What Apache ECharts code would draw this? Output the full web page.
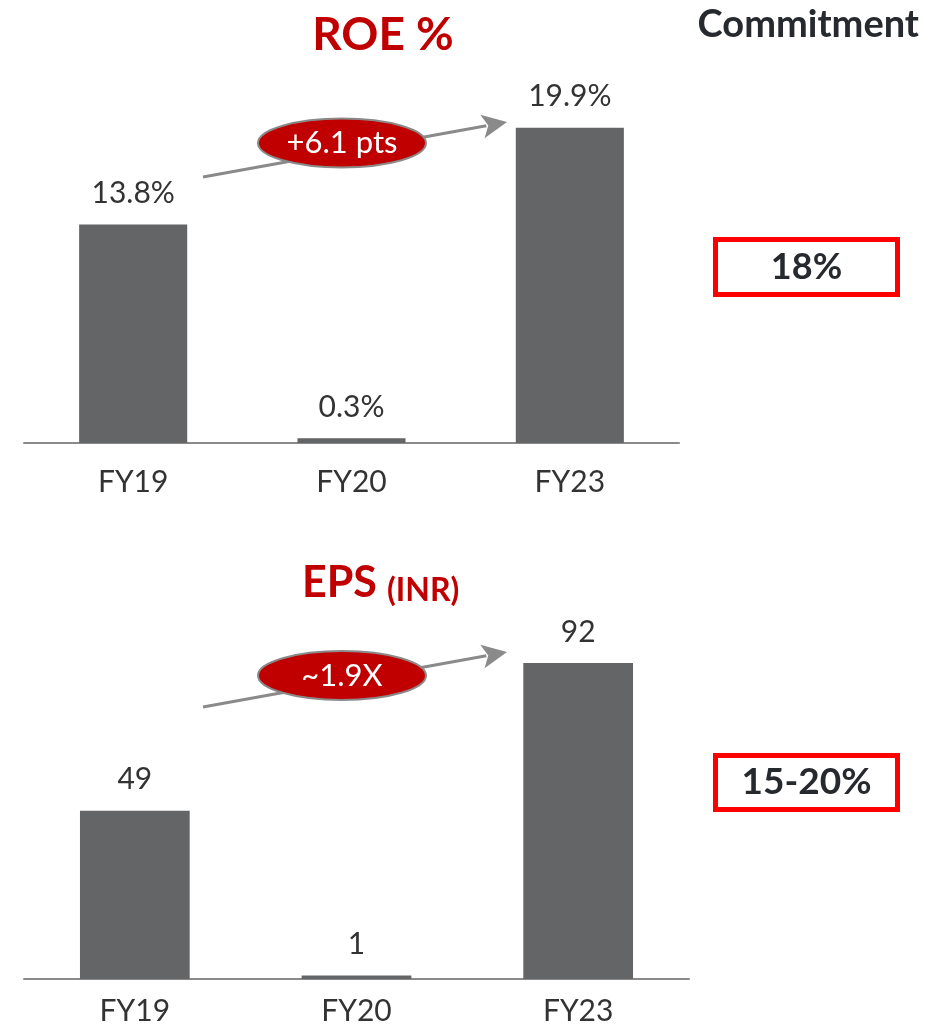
<!DOCTYPE html>
<html>
<head>
<meta charset="utf-8">
<script src="https://cdn.jsdelivr.net/npm/echarts@6/dist/echarts.min.js"></script>
<style>
html,body{margin:0;padding:0;background:#fff;}
#c{width:946px;height:1025px;}
</style>
</head>
<body>
<div id="c"></div>
<script>
const categories = ['FY19', 'FY20', 'FY23'];
const roeValues = [13.8, 0.3, 19.9];
const epsValues = [49, 1, 92];
const roeTitle = 'ROE %';
const epsTitle = 'EPS';
const epsUnit = '(INR)';
const roeChange = '+6.1 pts';
const epsChange = '~1.9X';
const commitmentTitle = 'Commitment';
const roeCommitment = '18%';
const epsCommitment = '15-20%';

const FONT = 'Lato, "Noto Sans", sans-serif';
const RED = '#C00000';
const BAR = '#646567';
const TXT = '#333333';
const DARK = '#262a2e';
const GREY = '#8a8a8a';

function arrow(x1, y1, x2, y2) {
  const dx = x2 - x1, dy = y2 - y1;
  const L = Math.sqrt(dx * dx + dy * dy);
  const ux = dx / L, uy = dy / L;
  const nx = -uy, ny = ux;
  const hl = 25, hw = 12;
  const bx = x2 - ux * hl, by = y2 - uy * hl;
  return [
    { type: 'line', shape: { x1: x1, y1: y1, x2: bx + ux * 4, y2: by + uy * 4 }, style: { stroke: GREY, lineWidth: 3 } },
    { type: 'polygon', shape: { points: [[x2, y2], [bx + nx * hw, by + ny * hw], [bx + ux * 6, by + uy * 6], [bx - nx * hw, by - ny * hw]] }, style: { fill: GREY } }
  ];
}

function bubble(cx, cy, txt) {
  return [
    { type: 'ellipse', shape: { cx: cx, cy: cy, rx: 84, ry: 24.5 }, style: { fill: RED, stroke: GREY, lineWidth: 2 } },
    { type: 'text', x: cx, y: cy, style: { text: txt, fill: '#fff', font: '31px ' + FONT, textAlign: 'center', textVerticalAlign: 'middle' } }
  ];
}

function box(y, h, txt, size) {
  return [
    { type: 'rect', shape: { x: 715.5, y: y, width: 182, height: h }, style: { fill: '#fff', stroke: '#ff0000', lineWidth: 5 } },
    { type: 'text', x: 806.5, y: y + h / 2, style: { text: txt, fill: DARK, font: 'bold ' + size + 'px ' + FONT, textAlign: 'center', textVerticalAlign: 'middle' } }
  ];
}

const chart = echarts.init(document.getElementById('c'), null, { renderer: 'canvas' });

function xAxis(gridIndex, margin) {
  return {
    gridIndex: gridIndex,
    type: 'category',
    data: categories,
    axisTick: { show: false },
    axisLine: { lineStyle: { color: GREY, width: 2 } },
    axisLabel: { color: TXT, fontSize: 30, fontFamily: FONT, margin: margin }
  };
}
const yAxisCommon = { type: 'value', min: 0, show: false, splitLine: { show: false } };

chart.setOption({
  animation: false,
  grid: [
    { left: 24, right: 267, top: 47, bottom: 582, outerBoundsMode: 'none', containLabel: false },
    { left: 24, right: 257, top: 635.5, bottom: 46, outerBoundsMode: 'none', containLabel: false }
  ],
  xAxis: [xAxis(0, 24), xAxis(1, 17)],
  yAxis: [
    Object.assign({ gridIndex: 0, max: 25 }, yAxisCommon),
    Object.assign({ gridIndex: 1, max: 100 }, yAxisCommon)
  ],
  series: [
    {
      type: 'bar', xAxisIndex: 0, yAxisIndex: 0, data: roeValues, barWidth: '49.5%',
      itemStyle: { color: BAR },
      label: { show: true, position: 'top', distance: 16, color: TXT, fontSize: 30, fontFamily: FONT,
        formatter: p => p.value.toFixed(1) + '%' }
    },
    {
      type: 'bar', xAxisIndex: 1, yAxisIndex: 1, data: epsValues, barWidth: '49.5%',
      itemStyle: { color: BAR },
      label: { show: true, position: 'top', distance: 16, color: TXT, fontSize: 30, fontFamily: FONT }
    }
  ],
  graphic: [].concat(
    [
      { type: 'text', x: 383, y: 35, style: { text: roeTitle, fill: RED, font: 'bold 46px ' + FONT, textAlign: 'center', textVerticalAlign: 'middle' } },
      { type: 'text', x: 302, y: 583, style: { text: epsTitle, fill: RED, font: 'bold 43px ' + FONT, textAlign: 'left', textVerticalAlign: 'middle' } },
      { type: 'text', x: 387, y: 591, style: { text: epsUnit, fill: RED, font: 'bold 32px ' + FONT, textAlign: 'left', textVerticalAlign: 'middle' } },
      { type: 'text', x: 919, y: 25, style: { text: commitmentTitle, fill: DARK, font: 'bold 38px ' + FONT, textAlign: 'right', textVerticalAlign: 'middle' } }
    ],
    arrow(203, 177, 507, 122),
    bubble(342, 143, roeChange),
    arrow(203, 707, 507, 652),
    bubble(342, 675.5, epsChange),
    box(239.5, 55, roeCommitment, 36),
    box(755.5, 54, epsCommitment, 37)
  )
});
</script>
</body>
</html>
